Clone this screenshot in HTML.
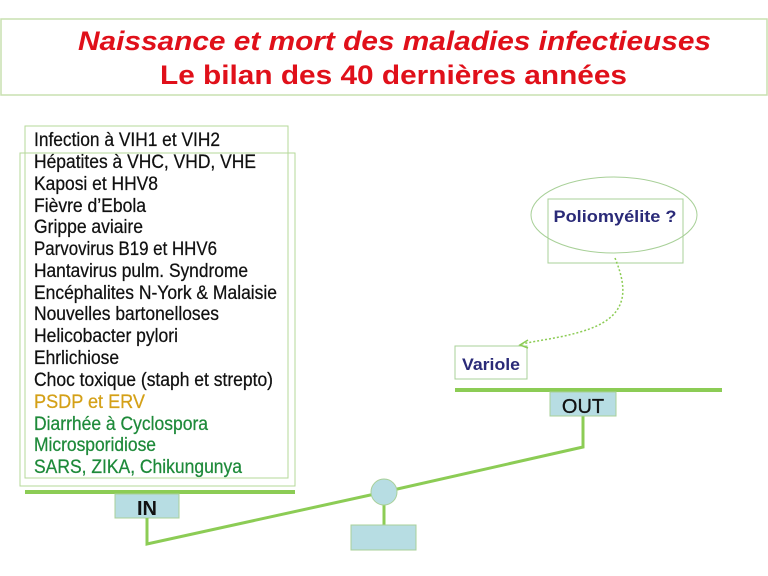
<!DOCTYPE html>
<html><head><meta charset="utf-8"><style>
html,body{margin:0;padding:0;background:#fff;width:768px;height:576px;overflow:hidden}
svg{display:block}
text{font-family:"Liberation Sans",Arial,sans-serif}
</style></head><body>
<svg width="768" height="576" viewBox="0 0 768 576" xmlns="http://www.w3.org/2000/svg">
<rect x="1" y="19" width="766" height="76" fill="none" stroke="#c8e0b0" stroke-width="1.5"/>
<text x="78" y="50" font-size="27" font-weight="bold" font-style="italic" fill="#e0101a" textLength="633" lengthAdjust="spacingAndGlyphs">Naissance et mort des maladies infectieuses</text>
<text x="160" y="84" font-size="27" font-weight="bold" fill="#e0101a" textLength="467" lengthAdjust="spacingAndGlyphs">Le bilan des 40 dernières années</text>

<rect x="25" y="126" width="263" height="352" fill="none" stroke="#b6d89a" stroke-width="1"/>
<rect x="20" y="153" width="275" height="333" fill="none" stroke="#b6d89a" stroke-width="1"/>
<g font-size="19" fill="#111" stroke="#111" stroke-width="0.25">
<text x="34" y="146" textLength="186" lengthAdjust="spacingAndGlyphs">Infection à VIH1 et VIH2</text>
<text x="34" y="168" textLength="222" lengthAdjust="spacingAndGlyphs">Hépatites à VHC, VHD, VHE</text>
<text x="34" y="190" textLength="124" lengthAdjust="spacingAndGlyphs">Kaposi et HHV8</text>
<text x="34" y="212" textLength="112" lengthAdjust="spacingAndGlyphs">Fièvre d’Ebola</text>
<text x="34" y="233" textLength="109" lengthAdjust="spacingAndGlyphs">Grippe aviaire</text>
<text x="34" y="255" textLength="183" lengthAdjust="spacingAndGlyphs">Parvovirus B19 et HHV6</text>
<text x="34" y="277" textLength="214" lengthAdjust="spacingAndGlyphs">Hantavirus pulm. Syndrome</text>
<text x="34" y="299" textLength="243" lengthAdjust="spacingAndGlyphs">Encéphalites N-York &amp; Malaisie</text>
<text x="34" y="320" textLength="185" lengthAdjust="spacingAndGlyphs">Nouvelles bartonelloses</text>
<text x="34" y="342" textLength="144" lengthAdjust="spacingAndGlyphs">Helicobacter pylori</text>
<text x="34" y="364" textLength="85" lengthAdjust="spacingAndGlyphs">Ehrlichiose</text>
<text x="34" y="386" textLength="239" lengthAdjust="spacingAndGlyphs">Choc toxique (staph et strepto)</text>
<text x="34" y="408" fill="#d4a017" stroke="#d4a017" textLength="111" lengthAdjust="spacingAndGlyphs">PSDP et ERV</text>
<text x="34" y="430" fill="#1e8a3a" stroke="#1e8a3a" textLength="174" lengthAdjust="spacingAndGlyphs">Diarrhée à Cyclospora</text>
<text x="34" y="451" fill="#1e8a3a" stroke="#1e8a3a" textLength="122" lengthAdjust="spacingAndGlyphs">Microsporidiose</text>
<text x="34" y="473" fill="#1e8a3a" stroke="#1e8a3a" textLength="208" lengthAdjust="spacingAndGlyphs">SARS, ZIKA, Chikungunya</text>
</g>

<line x1="25" y1="492" x2="295" y2="492" stroke="#8ccc55" stroke-width="4"/>
<rect x="115" y="494" width="64" height="24" fill="#b7dde3" stroke="#a8d098" stroke-width="1"/>
<text x="147" y="515" font-size="20" font-weight="bold" text-anchor="middle" fill="#111">IN</text>
<polyline points="147,518 147,544 384,492 583,447 583,416" fill="none" stroke="#8ccc55" stroke-width="3"/>
<line x1="384" y1="492" x2="384" y2="525" stroke="#8ccc55" stroke-width="3"/>
<circle cx="384" cy="492" r="13" fill="#b7dde3" stroke="#a8d098" stroke-width="1"/>
<rect x="351" y="525" width="65" height="25" fill="#b7dde3" stroke="#a8d098" stroke-width="1"/>

<line x1="455" y1="390" x2="722" y2="390" stroke="#8ccc55" stroke-width="4"/>
<rect x="550" y="392" width="66" height="24" fill="#b7dde3" stroke="#a8d098" stroke-width="1"/>
<text x="583" y="413" font-size="20" text-anchor="middle" fill="#111" stroke="#111" stroke-width="0.3">OUT</text>

<rect x="455" y="346" width="72" height="33" fill="#fff" stroke="#a8d098" stroke-width="1"/>
<text x="491" y="370" font-size="17" font-weight="bold" text-anchor="middle" fill="#2a2a78" textLength="58" lengthAdjust="spacingAndGlyphs">Variole</text>

<rect x="548" y="199" width="135" height="64" fill="none" stroke="#a8d098" stroke-width="1"/>
<ellipse cx="614" cy="215" rx="83" ry="38" fill="none" stroke="#a8d098" stroke-width="1"/>
<text x="615" y="222" font-size="17" font-weight="bold" text-anchor="middle" fill="#2a2a78" textLength="123" lengthAdjust="spacingAndGlyphs">Poliomyélite ?</text>
<path d="M615,258 C628,290 630,318 580,332 C560,338 540,340 522,344" fill="none" stroke="#8ccc55" stroke-width="1.5" stroke-dasharray="2,2"/>
<path d="M528,340 L520,345 L528,348" fill="none" stroke="#8ccc55" stroke-width="1.5"/>
</svg>
</body></html>
